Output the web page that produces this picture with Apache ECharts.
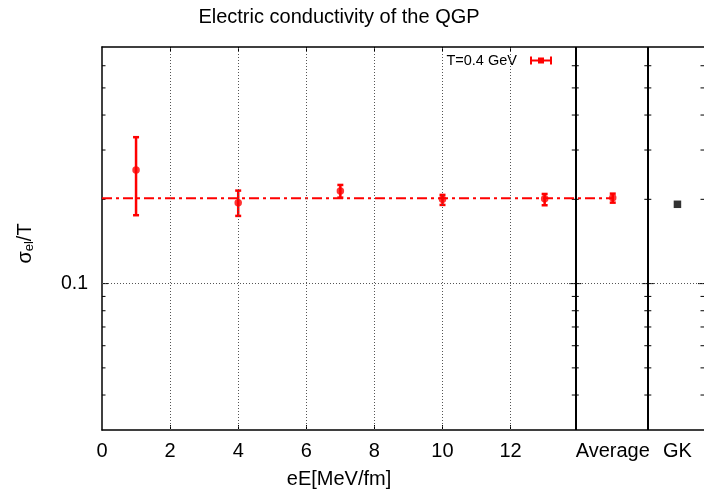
<!DOCTYPE html>
<html><head><meta charset="utf-8">
<script src="https://cdn.jsdelivr.net/npm/echarts@6/dist/echarts.min.js"></script>
<style>html,body{margin:0;padding:0;background:#fff}#c{width:704px;height:491px}</style>
</head><body><div id="c"></div>
<script>
// ---- data ----
const fieldValues = [1, 4, 7, 10, 13];
const sigmaValues = [0.2547, 0.1946, 0.2143, 0.2001, 0.2011];
const sigmaLow = [0.1755, 0.1745, 0.2028, 0.1910, 0.1905];
const sigmaHigh = [0.3334, 0.2149, 0.2251, 0.2074, 0.2090];
const averageX = [15];
const averageValue = [0.2028];
const averageLow = [0.1946];
const averageHigh = [0.2096];
const fitValue = 0.2018;
const fitRange = [0, 15];
const gkX = [16.9];
const gkValue = [0.192];
const xTickValues = [0, 2, 4, 6, 8, 10, 12];
const xTickLabels = ['0', '2', '4', '6', '8', '10', '12'];
const xGridValues = [2, 4, 6, 8, 10, 12];
const categoryX = [15, 16.9];
const categoryLabels = ['Average', 'GK'];
const dividers = [13.9, 16.03];
const xMin = 0, xMax = 17.68, yMin = 0.03, yMax = 0.7;
const yMajorTicks = [0.1];
const yMinorTicks = [0.04, 0.05, 0.06, 0.07, 0.08, 0.09, 0.2, 0.3, 0.4, 0.5, 0.6];
const legendName = 'T=0.4 GeV';

// ---- build ----
const errData = fieldValues.map((x, i) => [x, sigmaValues[i], sigmaLow[i], sigmaHigh[i]])
  .concat(averageX.map((x, i) => [x, averageValue[i], averageLow[i], averageHigh[i]]));
const ptData = errData.map(d => [d[0], d[1]]);
const gkData = gkX.map((x, i) => [x, gkValue[i]]);

const framePos = [[xMin, 0, 1]].concat(dividers.map(d => [d, 1, 1])).concat([[xMax, 1, 0]]);
const tickData = [];
framePos.forEach(f => {
  yMajorTicks.forEach(y => tickData.push([f[0], y, f[1], f[2], 1]));
  yMinorTicks.forEach(y => tickData.push([f[0], y, f[1], f[2], 0]));
});

const labelValues = xTickValues.concat(categoryX);
const labelTexts = xTickLabels.concat(categoryLabels);
const FONT = 'Liberation Sans';
const RED = '#ff0000';
const GRID_STYLE = {type: [1, 2], color: '#555', width: 1};

const chart = echarts.init(document.getElementById('c'), null, {renderer: 'canvas'});
chart.setOption({
  animation: false,
  textStyle: {fontFamily: FONT, color: '#000'},
  title: [
    {text: 'Electric conductivity of the QGP', left: 339, top: 7, textAlign: 'center', padding: 0,
     textStyle: {fontFamily: FONT, fontSize: 20, fontWeight: 'normal', color: '#000'}},
    {text: 'eE[MeV/fm]', left: 339, top: 469, textAlign: 'center', padding: 0,
     textStyle: {fontFamily: FONT, fontSize: 20, fontWeight: 'normal', color: '#000'}}
  ],
  legend: {
    data: [{name: legendName, icon: 'path://M0,0H2V3H8V1H14V3H20V0H22V8H20V5H14V7H8V5H2V8H0Z'}],
    right: 152, top: 53, itemWidth: 22, itemHeight: 8, align: 'right', padding: 0,
    formatter: n => n + '  ',
    textStyle: {fontFamily: FONT, fontSize: 14.5, color: '#000'}
  },
  grid: {left: 102, right: 0, top: 47, bottom: 61, containLabel: false},
  xAxis: [{
    type: 'value', min: xMin, max: xMax, interval: 2,
    axisLine: {show: true, lineStyle: {color: '#000', width: 1.5}},
    axisTick: {show: true, inside: true, length: 5, customValues: xGridValues, lineStyle: {color: '#000'}},
    axisLabel: {customValues: labelValues, margin: 11, fontSize: 20, color: '#000', fontFamily: FONT,
      formatter: v => { const i = labelValues.findIndex(t => Math.abs(t - v) < 1e-6); return i >= 0 ? labelTexts[i] : ''; }},
    splitLine: {show: false}
  }, {
    type: 'value', position: 'top', min: xMin, max: xMax, interval: 2,
    axisLine: {show: true, lineStyle: {color: '#000', width: 1.5}},
    axisTick: {show: true, inside: true, length: 5, customValues: xGridValues, lineStyle: {color: '#000'}},
    axisLabel: {show: false}, splitLine: {show: false}
  }],
  yAxis: {
    type: 'log', logBase: 10, min: yMin, max: yMax,
    name: '{a|σ}{b|el}{a|/T}', nameLocation: 'middle', nameGap: 66, nameRotate: 90,
    nameTextStyle: {padding: [0, 10, 0, 0],
      rich: {a: {fontSize: 20, fontFamily: FONT, color: '#000'},
             b: {fontSize: 13, fontFamily: FONT, color: '#000', padding: [9, 0, 0, 0]}}},
    axisLine: {show: true, lineStyle: {color: '#000', width: 1.5}},
    axisTick: {show: false},
    axisLabel: {customValues: yMajorTicks, margin: 14, fontSize: 19.5, color: '#000', fontFamily: FONT,
      formatter: v => { const t = yMajorTicks.find(t => Math.abs(t - v) < 1e-9); return t !== undefined ? String(t) : ''; }},
    splitLine: {show: false}
  },
  series: [
    {
      type: 'custom', name: 'frame', silent: true, z: 1,
      data: tickData,
      renderItem: (params, api) => {
        const p = api.coord([api.value(0), api.value(1)]);
        const len = api.value(4) ? 6 : 3.5;
        return {type: 'line', shape: {x1: p[0] - api.value(2) * len, y1: p[1], x2: p[0] + api.value(3) * len, y2: p[1]},
                style: {stroke: '#000', lineWidth: 1}};
      },
      markLine: {
        silent: true, symbol: ['none', 'none'], label: {show: false}, animation: false,
        data: [{yAxis: yMajorTicks[0], lineStyle: GRID_STYLE}]
          .concat(xGridValues.map(v => ({xAxis: v, lineStyle: GRID_STYLE})))
          .concat(dividers.map(v => ({xAxis: v, lineStyle: {type: 'solid', color: '#000', width: 2}})))
      }
    },
    {
      type: 'line', name: 'fit', data: fitRange.map(x => [x, fitValue]), symbol: 'none', z: 3,
      lineStyle: {color: RED, width: 2, type: [10, 4, 3, 4]}, silent: true
    },
    {
      type: 'custom', name: legendName, z: 4, itemStyle: {color: RED},
      data: errData,
      renderItem: (params, api) => {
        const x = api.value(0);
        const lo = api.coord([x, api.value(2)]);
        const hi = api.coord([x, api.value(3)]);
        const w = 3;
        const st = {stroke: RED, lineWidth: 2.5};
        return {type: 'group', children: [
          {type: 'line', shape: {x1: lo[0], y1: lo[1], x2: hi[0], y2: hi[1]}, style: st},
          {type: 'line', shape: {x1: lo[0] - w, y1: lo[1], x2: lo[0] + w, y2: lo[1]}, style: st},
          {type: 'line', shape: {x1: hi[0] - w, y1: hi[1], x2: hi[0] + w, y2: hi[1]}, style: st}
        ]};
      }
    },
    {
      type: 'scatter', name: legendName, data: ptData, symbol: 'circle', symbolSize: 7.5, z: 5,
      itemStyle: {color: RED}
    },
    {
      type: 'scatter', name: 'GK', data: gkData, symbol: 'rect', symbolSize: 7.5, z: 5,
      itemStyle: {color: '#000'}
    }
  ]
});
</script></body></html>
